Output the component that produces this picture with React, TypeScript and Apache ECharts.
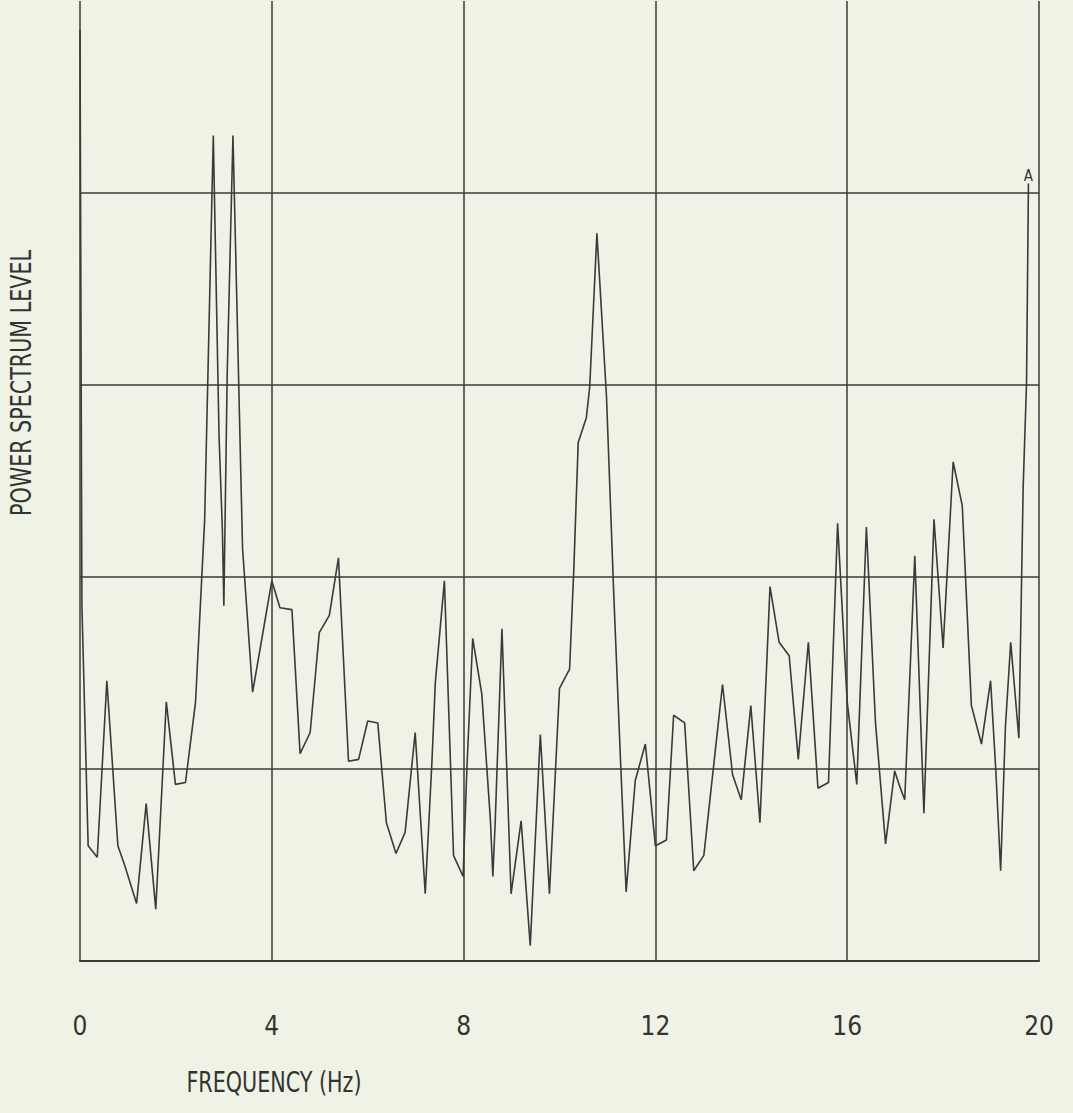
import React, { useEffect, useRef } from "react";
import * as echarts from "echarts";

const freqHz: number[] = [
  0.0, 0.04, 0.17, 0.36, 0.56, 0.79, 0.93, 1.18, 1.38, 1.58, 1.8, 1.99, 2.2, 2.41, 2.6, 2.78, 2.9, 2.97, 3.0,
  3.07, 3.19, 3.39, 3.6, 4.0, 4.17, 4.42, 4.59, 4.8, 4.99, 5.2, 5.39, 5.6, 5.81, 6.0, 6.21, 6.39, 6.59, 6.78,
  6.99, 7.2, 7.34, 7.41, 7.6, 7.79, 7.99, 8.07, 8.19, 8.38, 8.56, 8.61, 8.66, 8.8, 8.99, 9.2, 9.39, 9.6, 9.79,
  10.0, 10.21, 10.3, 10.39, 10.56, 10.63, 10.78, 10.98, 11.13, 11.27, 11.39, 11.58, 11.79, 12.0, 12.23, 12.38,
  12.61, 12.8, 13.01, 13.4, 13.61, 13.79, 13.99, 14.18, 14.39, 14.58, 14.79, 14.98, 15.19, 15.39, 15.61, 15.8,
  16.0, 16.2, 16.4, 16.59, 16.8, 16.99, 17.08, 17.2, 17.41, 17.6, 17.81, 18.0, 18.21, 18.4, 18.59, 18.8, 18.99,
  19.1, 19.2, 19.3, 19.41, 19.58, 19.67, 19.74, 19.78,
];

const powerLevel: number[] = [
  4.85, 1.85, 0.6, 0.54, 1.46, 0.6, 0.5, 0.3, 0.82, 0.27, 1.35, 0.92, 0.93, 1.35, 2.3, 4.3, 2.73, 2.24, 1.85,
  3.06, 4.3, 2.15, 1.4, 1.98, 1.84, 1.83, 1.08, 1.19, 1.71, 1.8, 2.1, 1.04, 1.05, 1.25, 1.24, 0.72, 0.56, 0.67,
  1.19, 0.35, 1.04, 1.45, 1.98, 0.55, 0.44, 1.01, 1.68, 1.39, 0.73, 0.44, 0.73, 1.73, 0.35, 0.73, 0.08, 1.18, 0.35,
  1.42, 1.52, 2.05, 2.7, 2.83, 2.99, 3.79, 2.94, 1.92, 1.06, 0.36, 0.94, 1.13, 0.6, 0.63, 1.28,
  1.24, 0.47, 0.55, 1.44, 0.97, 0.84, 1.33, 0.72, 1.95, 1.66, 1.59, 1.05, 1.66, 0.9, 0.93, 2.28,
  1.35, 0.92, 2.26, 1.24, 0.61, 0.99, 0.92, 0.84, 2.11, 0.77, 2.3, 1.63, 2.6, 2.37, 1.33, 1.13, 1.46,
  0.99, 0.47, 1.22, 1.66, 1.16, 2.47, 3.01, 4.05,
];

const xTicks: number[] = [0, 4, 8, 12, 16, 20];
const endMarker = "A";
const xTitle = "FREQUENCY (Hz)";
const yTitle = "POWER SPECTRUM LEVEL";

const FONT = "'DejaVu Sans Condensed', 'DejaVu Sans', sans-serif";
const INK = "#333333";
const LINE = "#3a3a3a";

export default function App() {
  const ref = useRef<HTMLDivElement>(null);

  useEffect(() => {
    if (!ref.current) return;
    const chart = echarts.init(ref.current, undefined, { renderer: "svg" });
    const last = freqHz.length - 1;
    const data = freqHz.map((f, i) =>
      i === last
        ? {
            value: [f, powerLevel[i]],
            label: {
              show: true,
              formatter: endMarker,
              position: "top",
              distance: 0,
              fontSize: 15,
              color: INK,
              fontFamily: FONT,
            },
          }
        : { value: [f, powerLevel[i]] }
    );

    chart.setOption({
      animation: false,
      backgroundColor: "#eff3e6",
      grid: { left: 80, right: 34, top: 1, bottom: 152, containLabel: false },
      xAxis: {
        type: "value",
        min: xTicks[0],
        max: xTicks[xTicks.length - 1],
        interval: 4,
        axisLine: { show: true, lineStyle: { color: LINE, width: 2 } },
        axisTick: { show: false },
        axisLabel: {
          show: true,
          margin: 52,
          fontSize: 26,
          color: INK,
          fontFamily: FONT,
        },
        splitLine: { show: true, lineStyle: { color: LINE, width: 1.5 } },
      },
      yAxis: {
        type: "value",
        min: 0,
        max: 5,
        interval: 1,
        axisLine: { show: false },
        axisTick: { show: false },
        axisLabel: { show: false },
        splitLine: {
          show: true,
          showMaxLine: false,
          lineStyle: { color: LINE, width: 1.5 },
        },
      },
      graphic: [
        {
          type: "text",
          x: 274,
          y: 1082,
          scaleY: 1.22,
          style: {
            text: xTitle,
            fill: INK,
            font: `23px ${FONT}`,
            textAlign: "center",
            textVerticalAlign: "middle",
          },
        },
        {
          type: "text",
          x: 21,
          y: 383,
          rotation: Math.PI / 2,
          scaleY: 1.25,
          style: {
            text: yTitle,
            fill: INK,
            font: `23px ${FONT}`,
            textAlign: "center",
            textVerticalAlign: "middle",
          },
        },
      ],
      series: [
        {
          type: "line",
          data,
          showSymbol: true,
          symbol: "circle",
          symbolSize: 0,
          lineStyle: { color: LINE, width: 1.6 },
          itemStyle: { color: LINE },
          z: 3,
        },
      ],
    });

    return () => chart.dispose();
  }, []);

  return (
    <div
      ref={ref}
      style={{ position: "fixed", left: 0, top: 0, width: 1073, height: 1113 }}
    />
  );
}
